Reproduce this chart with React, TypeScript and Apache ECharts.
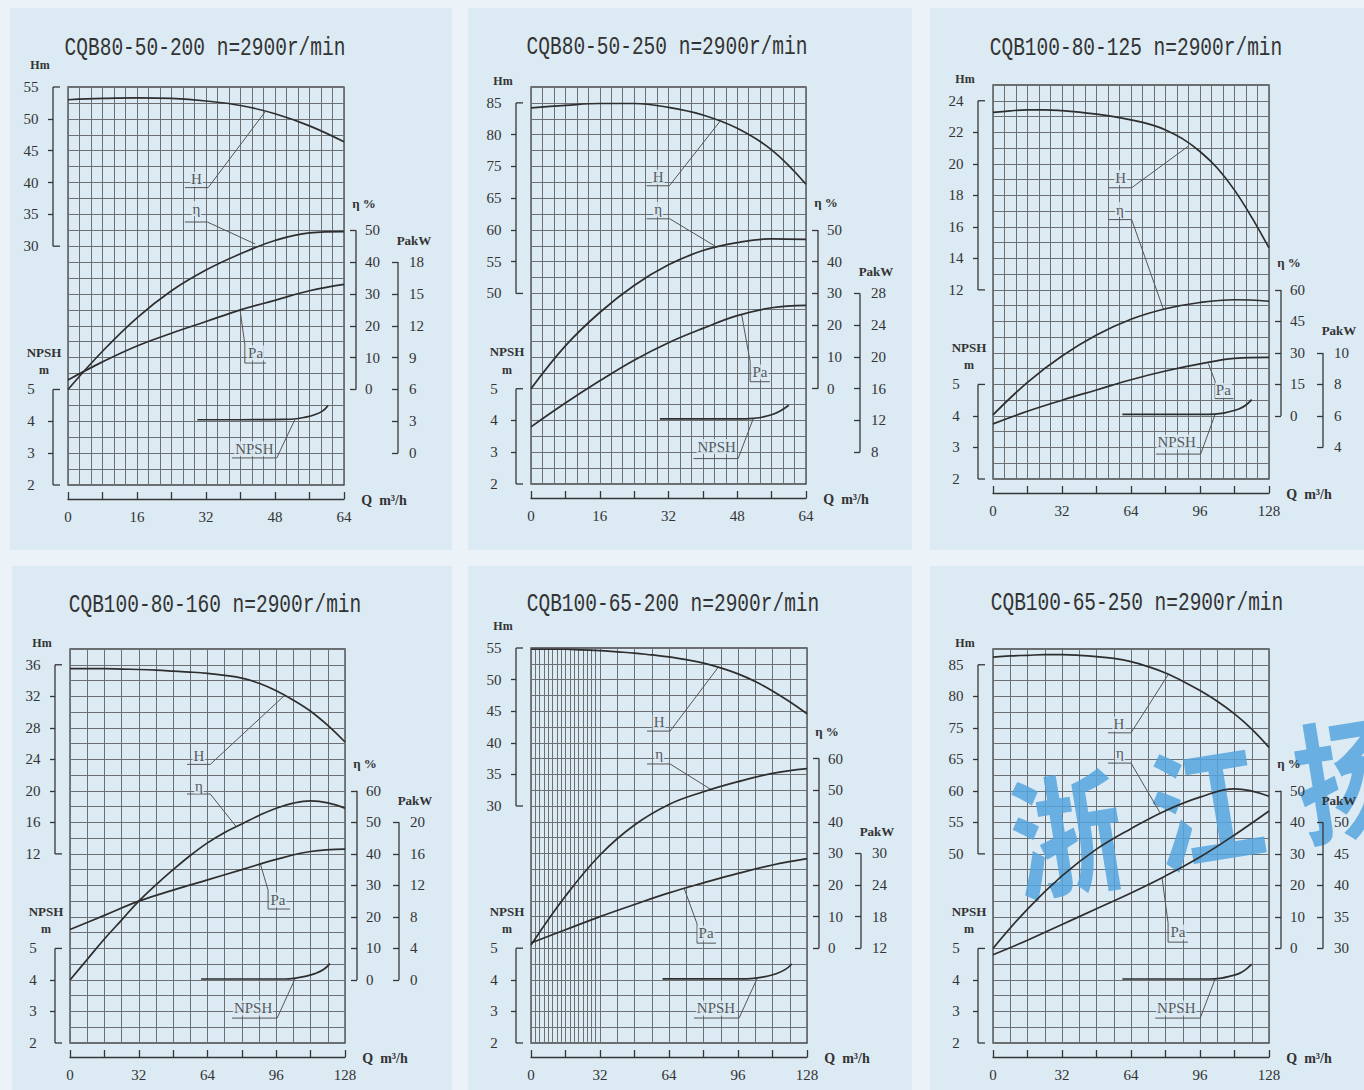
import React, { useEffect, useRef } from "react";
import * as echarts from "echarts";

// ---------------- DATA ----------------
const LABEL_TEXTS = ["H", "η", "Pa", "NPSH"];
const NPSH_TICKS = [2, 3, 4, 5];

// Panel 1
const p1Title = "CQB80-50-200 n=2900r/min";
const p1Q = [0, 8, 16, 24, 32, 40, 48, 56, 64];
const p1H = [53.0, 53.2, 53.3, 53.2, 52.8, 52.1, 50.8, 48.9, 46.4];
const p1Eta = [0, 12, 22.5, 31, 37.5, 42.6, 46.8, 49.2, 49.6];
const p1Pa = [6.9, 8.6, 10.1, 11.3, 12.4, 13.5, 14.4, 15.3, 15.9];
const p1NpshQ = [30, 40, 50, 53, 55, 57, 59, 60.3];
const p1Npsh = [4.05, 4.05, 4.06, 4.08, 4.13, 4.2, 4.32, 4.5];
const p1QTicks = [0, 16, 32, 48, 64];
const p1HTicks = [30, 35, 40, 45, 50, 55];
const p1EtaTicks = [0, 10, 20, 30, 40, 50];
const p1PaTicks = [0, 3, 6, 9, 12, 15, 18];

// Panel 2
const p2Title = "CQB80-50-250 n=2900r/min";
const p2Q = [0, 8, 16, 24, 32, 40, 48, 56, 64];
const p2H = [84.2, 84.6, 84.9, 84.9, 84.3, 83.1, 81.0, 77.6, 72.2];
const p2Eta = [0, 13.5, 24, 32.5, 39, 43.5, 46, 47.2, 47];
const p2Pa = [11.2, 14.2, 17, 19.6, 21.8, 23.6, 25.2, 26.2, 26.5];
const p2NpshQ = [30, 40, 50, 52, 54, 56, 58, 60];
const p2Npsh = [4.05, 4.05, 4.05, 4.07, 4.11, 4.18, 4.3, 4.48];
const p2QTicks = [0, 16, 32, 48, 64];
const p2HTicks = [55, 60, 65, 70, 75, 80, 85];
const p2HTickText = ["50", "55", "60", "65", "75", "80", "85"];
const p2EtaTicks = [0, 10, 20, 30, 40, 50];
const p2PaTicks = [8, 12, 16, 20, 24, 28];

// Panel 3
const p3Title = "CQB100-80-125 n=2900r/min";
const p3Q = [0, 8, 16, 24, 32, 40, 48, 56, 64, 72, 80, 88, 96, 104, 112, 120, 128];
const p3H = [23.26, 23.36, 23.42, 23.42, 23.37, 23.28, 23.15, 22.99, 22.79, 22.53, 22.15, 21.58, 20.78, 19.73, 18.33, 16.6, 14.66];
const p3Q16 = [0, 16, 32, 48, 64, 80, 96, 112, 128];
const p3Eta = [0.5, 16, 28.5, 38.5, 46, 51, 54, 55.3, 54.6];
const p3Pa = [5.5, 6.3, 7.0, 7.65, 8.3, 8.85, 9.3, 9.65, 9.72];
const p3NpshQ = [60, 80, 100, 106, 110, 114, 117, 120];
const p3Npsh = [4.05, 4.05, 4.05, 4.08, 4.14, 4.22, 4.33, 4.52];
const p3QTicks = [0, 32, 64, 96, 128];
const p3HTicks = [12, 14, 16, 18, 20, 22, 24];
const p3EtaTicks = [0, 15, 30, 45, 60];
const p3PaTicks = [4, 6, 8, 10];

// Panel 4
const p4Title = "CQB100-80-160 n=2900r/min";
const p4Q = [0, 8, 16, 24, 32, 40, 48, 56, 64, 72, 80, 88, 96, 104, 112, 120, 128];
const p4H = [35.5, 35.5, 35.5, 35.45, 35.4, 35.32, 35.2, 35.07, 34.9, 34.65, 34.3, 33.65, 32.7, 31.5, 30.1, 28.3, 26.2];
const p4Eta = [0, 6.5, 13, 19, 25, 30.2, 35, 39.5, 43.5, 46.8, 49.5, 52.2, 54.5, 56.1, 56.8, 56.2, 54.5];
const p4Q16 = [0, 16, 32, 48, 64, 80, 96, 112, 128];
const p4Pa = [6.4, 8.2, 10, 11.4, 12.7, 14, 15.3, 16.3, 16.6];
const p4NpshQ = [61, 80, 100, 105, 110, 114, 118, 121];
const p4Npsh = [4.03, 4.03, 4.03, 4.06, 4.12, 4.2, 4.33, 4.52];
const p4QTicks = [0, 32, 64, 96, 128];
const p4HTicks = [12, 16, 20, 24, 28, 32, 36];
const p4EtaTicks = [0, 10, 20, 30, 40, 50, 60];
const p4PaTicks = [0, 4, 8, 12, 16, 20];

// Panel 5
const p5Title = "CQB100-65-200 n=2900r/min";
const p5Q = [0, 8, 16, 24, 32, 40, 48, 56, 64, 72, 80, 88, 96, 104, 112, 120, 128];
const p5H = [54.8, 54.8, 54.8, 54.7, 54.6, 54.4, 54.2, 53.9, 53.6, 53.15, 52.6, 51.85, 50.9, 49.7, 48.2, 46.5, 44.6];
const p5Q16 = [0, 16, 32, 48, 64, 80, 96, 112, 128];
const p5Eta = [1, 16.5, 29.5, 39, 45.5, 49.5, 52.7, 55.3, 56.8];
const p5Pa = [13, 15.5, 18, 20.3, 22.5, 24.4, 26.2, 27.8, 29];
const p5NpshQ = [61, 80, 100, 105, 110, 114, 118, 121];
const p5Npsh = [4.03, 4.03, 4.03, 4.06, 4.12, 4.2, 4.33, 4.5];
const p5QTicks = [0, 32, 64, 96, 128];
const p5HTicks = [30, 35, 40, 45, 50, 55];
const p5EtaTicks = [0, 10, 20, 30, 40, 50, 60];
const p5PaTicks = [12, 18, 24, 30];

// Panel 6
const p6Title = "CQB100-65-250 n=2900r/min";
const p6Q = [0, 8, 16, 24, 32, 40, 48, 56, 64, 72, 80, 88, 96, 104, 112, 120, 128];
const p6H = [86.2, 86.4, 86.5, 86.6, 86.6, 86.5, 86.3, 86.0, 85.5, 84.7, 83.7, 82.4, 80.9, 79.2, 77.2, 74.8, 71.9];
const p6Q16 = [0, 16, 32, 48, 64, 80, 96, 112, 128];
const p6Eta = [0, 12.5, 23, 31.5, 38, 43.7, 48, 50.6, 48.3];
const p6Pa = [29, 31.3, 33.8, 36.3, 38.8, 41.5, 44.5, 48, 51.8];
const p6NpshQ = [60, 80, 100, 106, 110, 114, 117, 120];
const p6Npsh = [4.03, 4.03, 4.03, 4.06, 4.12, 4.2, 4.32, 4.5];
const p6QTicks = [0, 32, 64, 96, 128];
const p6HTicks = [55, 60, 65, 70, 75, 80, 85];
const p6HTickText = ["50", "55", "60", "65", "75", "80", "85"];
const p6EtaTicks = [0, 10, 20, 30, 40, 50];
const p6PaTicks = [30, 35, 40, 45, 50];

// Annotation anchors (Q, grid-unit) for leader lines and curve labels
const p1Leaders = [
  [[27.1, 9.34], [32.5, 9.34], [45.7, 11.72]],
  [[27.1, 8.26], [32.3, 8.26], [43.4, 7.57]],
  [[39.9, 5.5], [41.0, 4.42], [41.0, 3.83], [45.9, 3.83]],
  [[38.0, 0.85], [48.4, 0.85], [52.6, 2.05]],
];
const p1LabelAt = [[29.8, 9.6], [29.8, 8.68], [43.5, 4.15], [43.2, 1.14]];
const p2Leaders = [
  [[26.9, 9.39], [32.2, 9.39], [44.1, 11.44]],
  [[26.9, 8.35], [32.3, 8.35], [43.2, 7.46]],
  [[49.0, 5.35], [51.0, 3.85], [51.0, 3.22], [55.6, 3.22]],
  [[37.8, 0.8], [48.2, 0.8], [51.7, 2.05]],
];
const p2LabelAt = [[29.6, 9.66], [29.6, 8.65], [53.3, 3.53], [43.2, 1.18]];
const p3Leaders = [
  [[53.5, 9.24], [64.3, 9.24], [90.6, 10.56]],
  [[53.5, 8.23], [64.3, 8.23], [79.0, 5.39]],
  [[99.9, 3.66], [103, 3.1], [103, 2.55], [111.5, 2.55]],
  [[75.6, 0.79], [96.3, 0.79], [103, 2.05]],
];
const p3LabelAt = [[59.2, 9.56], [58.9, 8.55], [106.8, 2.81], [85.2, 1.17]];
const p4Leaders = [
  [[54.5, 8.84], [65.3, 8.84], [99.9, 11.03]],
  [[54.5, 7.9], [65.3, 7.9], [77.4, 6.86]],
  [[88.6, 5.68], [92.2, 4.85], [92.2, 4.25], [102.4, 4.25]],
  [[75.4, 0.79], [96.4, 0.79], [104.7, 2.03]],
];
const p4LabelAt = [[60, 9.11], [60, 8.15], [96.8, 4.54], [85.2, 1.11]];
const p5Leaders = [
  [[53.8, 9.87], [64.5, 9.87], [86.7, 11.88]],
  [[53.8, 8.83], [64.5, 8.83], [83.5, 8.02]],
  [[71.0, 4.9], [77.0, 3.77], [77.0, 3.16], [85.8, 3.16]],
  [[75.6, 0.79], [96.5, 0.79], [104.8, 2.03]],
];
const p5LabelAt = [[59.4, 10.16], [59.4, 9.15], [81.2, 3.48], [85.8, 1.11]];
const p6Leaders = [
  [[53.3, 9.84], [64.0, 9.84], [81.2, 11.68]],
  [[53.3, 8.88], [64.0, 8.88], [77.5, 7.3]],
  [[78.4, 5.24], [81.2, 3.81], [81.2, 3.2], [90.4, 3.2]],
  [[75.2, 0.79], [96.1, 0.79], [103, 2.03]],
];
const p6LabelAt = [[58.4, 10.12], [58.9, 9.2], [85.8, 3.52], [85, 1.11]];

// ---------------- STYLE / LAYOUT ----------------
const W = 1364;
const Hh = 1090;
const PAGE_BG = "#ecf3f8";
const PANEL_BG = "#dbeaf3";
const GRID_C = "#6c7073";
const AX_C = "#363636";
const CURVE_C = "#2e2e2e";
const TXT_C = "#333333";
const SERIF = '"Liberation Serif", "DejaVu Serif", serif';
const MONO = '"Liberation Mono", "DejaVu Sans Mono", monospace';

const BG_RECTS = [
  [10, 8, 442, 542],
  [468, 8, 444, 542],
  [930, 8, 434, 542],
  [12, 566, 440, 524],
  [468, 566, 444, 524],
  [930, 566, 434, 524],
];

type AxisSpec = { ref: number; refU: number; step: number; ticks: number[]; texts?: string[] };
type Panel = {
  title: string; titleAt: [number, number];
  rect: [number, number, number, number]; xMax: number; nV: number; denseTo?: number;
  qTicks: number[];
  hQ: number[]; h: number[]; etaQ: number[]; eta: number[]; paQ: number[]; pa: number[];
  npshQ: number[]; npsh: number[];
  hAx: AxisSpec; etaAx: AxisSpec; paAx: AxisSpec;
  leaders: number[][][]; labelAt: number[][];
};

const panels: Panel[] = [
  {
    title: p1Title, titleAt: [205, 48], rect: [68, 87, 276, 398], xMax: 64, nV: 24, qTicks: p1QTicks,
    hQ: p1Q, h: p1H, etaQ: p1Q, eta: p1Eta, paQ: p1Q, pa: p1Pa, npshQ: p1NpshQ, npsh: p1Npsh,
    hAx: { ref: 55, refU: 12.5, step: 5, ticks: p1HTicks },
    etaAx: { ref: 0, refU: 3, step: 10, ticks: p1EtaTicks },
    paAx: { ref: 0, refU: 1, step: 3, ticks: p1PaTicks },
    leaders: p1Leaders, labelAt: p1LabelAt,
  },
  {
    title: p2Title, titleAt: [667, 47], rect: [531, 87, 275, 397], xMax: 64, nV: 24, qTicks: p2QTicks,
    hQ: p2Q, h: p2H, etaQ: p2Q, eta: p2Eta, paQ: p2Q, pa: p2Pa, npshQ: p2NpshQ, npsh: p2Npsh,
    hAx: { ref: 85, refU: 12, step: 5, ticks: p2HTicks, texts: p2HTickText },
    etaAx: { ref: 0, refU: 3, step: 10, ticks: p2EtaTicks },
    paAx: { ref: 8, refU: 1, step: 4, ticks: p2PaTicks },
    leaders: p2Leaders, labelAt: p2LabelAt,
  },
  {
    title: p3Title, titleAt: [1136, 48], rect: [993, 85, 276, 394], xMax: 128, nV: 24, qTicks: p3QTicks,
    hQ: p3Q, h: p3H, etaQ: p3Q16, eta: p3Eta, paQ: p3Q16, pa: p3Pa, npshQ: p3NpshQ, npsh: p3Npsh,
    hAx: { ref: 24, refU: 12, step: 2, ticks: p3HTicks },
    etaAx: { ref: 0, refU: 2, step: 15, ticks: p3EtaTicks },
    paAx: { ref: 4, refU: 1, step: 2, ticks: p3PaTicks },
    leaders: p3Leaders, labelAt: p3LabelAt,
  },
  {
    title: p4Title, titleAt: [215, 605], rect: [70, 649, 275, 394], xMax: 128, nV: 16, qTicks: p4QTicks,
    hQ: p4Q, h: p4H, etaQ: p4Q, eta: p4Eta, paQ: p4Q16, pa: p4Pa, npshQ: p4NpshQ, npsh: p4Npsh,
    hAx: { ref: 36, refU: 12, step: 4, ticks: p4HTicks },
    etaAx: { ref: 0, refU: 2, step: 10, ticks: p4EtaTicks },
    paAx: { ref: 0, refU: 2, step: 4, ticks: p4PaTicks },
    leaders: p4Leaders, labelAt: p4LabelAt,
  },
  {
    title: p5Title, titleAt: [673, 604], rect: [531, 648, 276, 395], xMax: 128, nV: 16, denseTo: 32, qTicks: p5QTicks,
    hQ: p5Q, h: p5H, etaQ: p5Q16, eta: p5Eta, paQ: p5Q16, pa: p5Pa, npshQ: p5NpshQ, npsh: p5Npsh,
    hAx: { ref: 55, refU: 12.5, step: 5, ticks: p5HTicks },
    etaAx: { ref: 0, refU: 3, step: 10, ticks: p5EtaTicks },
    paAx: { ref: 12, refU: 3, step: 6, ticks: p5PaTicks },
    leaders: p5Leaders, labelAt: p5LabelAt,
  },
  {
    title: p6Title, titleAt: [1137, 603], rect: [993, 649, 276, 394], xMax: 128, nV: 16, qTicks: p6QTicks,
    hQ: p6Q, h: p6H, etaQ: p6Q16, eta: p6Eta, paQ: p6Q16, pa: p6Pa, npshQ: p6NpshQ, npsh: p6Npsh,
    hAx: { ref: 85, refU: 12, step: 5, ticks: p6HTicks, texts: p6HTickText },
    etaAx: { ref: 0, refU: 3, step: 10, ticks: p6EtaTicks },
    paAx: { ref: 30, refU: 3, step: 5, ticks: p6PaTicks },
    leaders: p6Leaders, labelAt: p6LabelAt,
  },
];

const NPSH_AX: AxisSpec = { ref: 2, refU: 0, step: 1, ticks: NPSH_TICKS };

function range(s: AxisSpec) {
  const min = s.ref - s.refU * s.step;
  return { min, max: min + 12.5 * s.step };
}
function unitOf(s: AxisSpec, v: number) {
  return s.refU + (v - s.ref) / s.step;
}
function fmt(s: AxisSpec) {
  return (v: number) => {
    if (!s.texts) return String(v);
    const k = s.ticks.findIndex((t) => Math.abs(t - v) < 1e-6);
    return k >= 0 ? s.texts[k] : String(v);
  };
}

const labelStyle = { fontFamily: SERIF, fontSize: 15, color: TXT_C };

function buildOption() {
  const grid: any[] = [];
  const xAxis: any[] = [];
  const yAxis: any[] = [];
  const series: any[] = [];
  const graphic: any[] = [];

  // watermark first: under every later graphic text
  const wm = (ch: string, x: number, y: number) => ({
    type: "text", x, y, rotation: 0.16, scaleX: 0.92, scaleY: 1.08, silent: true, z: 1,
    style: { text: ch, fill: "rgba(86,164,222,0.85)", fontFamily: '"Noto Sans CJK SC", sans-serif', fontWeight: "bold", fontSize: 122, align: "center", verticalAlign: "middle" },
  });
  graphic.push(wm("浙", 1066, 828), wm("江", 1205, 800), wm("扬", 1350, 772));

  const extraGrids: any[] = [];

  panels.forEach((p, i) => {
    const [L, T, GW, GH] = p.rect;
    const R = L + GW;
    const B = T + GH;
    const py = (u: number) => T + ((12.5 - u) * GH) / 12.5;

    grid.push({ left: L, top: T, width: GW, height: GH, show: true, borderColor: "#444", borderWidth: 1.3, backgroundColor: "transparent", z: 0 });

    const xg = xAxis.length;
    xAxis.push({
      gridIndex: i, type: "value", min: 0, max: p.xMax, interval: p.xMax / p.nV, z: 0,
      axisLine: { show: false, onZero: false }, axisTick: { show: false }, axisLabel: { show: false },
      splitLine: { show: true, lineStyle: { color: GRID_C, width: 1 } },
    });
    xAxis.push({
      gridIndex: i, type: "value", min: 0, max: p.xMax, interval: p.xMax / 8, position: "bottom", offset: 14, z: 3,
      axisLine: { show: true, onZero: false, lineStyle: { color: AX_C, width: 1.3 } },
      axisTick: { show: true, inside: true, length: 7, lineStyle: { color: AX_C, width: 1.3 } },
      axisLabel: { ...labelStyle, margin: 10, customValues: p.qTicks },
      splitLine: { show: false },
    });

    const yu = yAxis.length;
    yAxis.push({
      gridIndex: i, type: "value", min: 0, max: 12.5, interval: 0.5, z: 0,
      axisLine: { show: false, onZero: false }, axisTick: { show: false }, axisLabel: { show: false },
      splitLine: { show: true, lineStyle: { color: GRID_C, width: 1 } },
    });

    const leftAxis = (s: AxisSpec) => {
      const r = range(s);
      return {
        gridIndex: i, type: "value", min: r.min, max: r.max, position: "left", offset: 15, z: 3,
        axisLine: { show: false, onZero: false },
        axisTick: { show: true, length: 5, customValues: s.ticks.slice(1, -1), lineStyle: { color: AX_C, width: 1.3 } },
        axisLabel: { ...labelStyle, margin: 22, align: "center", customValues: s.ticks, formatter: fmt(s) },
        splitLine: { show: false },
      };
    };
    const rightAxis = (s: AxisSpec, off: number, margin: number) => {
      const r = range(s);
      return {
        gridIndex: i, type: "value", min: r.min, max: r.max, position: "right", offset: off, z: 3,
        axisLine: { show: false, onZero: false },
        axisTick: { show: true, inside: true, length: 6, customValues: s.ticks, lineStyle: { color: AX_C, width: 1.3 } },
        axisLabel: { ...labelStyle, margin, customValues: s.ticks, formatter: fmt(s) },
        splitLine: { show: false },
      };
    };
    const yH = yAxis.length; yAxis.push(leftAxis(p.hAx));
    const yN = yAxis.length; yAxis.push(leftAxis(NPSH_AX));
    const yE = yAxis.length; yAxis.push(rightAxis(p.etaAx, 12, 9));
    const yP = yAxis.length; yAxis.push(rightAxis(p.paAx, 54, 11));

    if (p.denseTo) extraGrids.push({ p, L, T, GH });

    const curve = (name: string, yi: number, xs: number[], ys: number[]) => ({
      type: "line", name, xAxisIndex: xg, yAxisIndex: yi,
      data: xs.map((x, k) => [x, ys[k]]), smooth: 0.4, showSymbol: false, symbol: "none",
      lineStyle: { color: CURVE_C, width: 1.7 }, silent: true, z: 4,
    });
    series.push(curve("H", yH, p.hQ, p.h));
    series.push(curve("η", yE, p.etaQ, p.eta));
    series.push(curve("Pa", yP, p.paQ, p.pa));
    series.push(curve("NPSH", yN, p.npshQ, p.npsh));

    p.leaders.forEach((pts, k) => {
      series.push({
        type: "line", name: "lead-" + LABEL_TEXTS[k], xAxisIndex: xg, yAxisIndex: yu,
        data: pts, smooth: false, showSymbol: false, symbol: "none",
        lineStyle: { color: "#555", width: 1 }, silent: true, z: 3,
      });
    });
    series.push({
      type: "scatter", name: "labels", xAxisIndex: xg, yAxisIndex: yu,
      symbol: "rect", symbolSize: 1, itemStyle: { color: "rgba(0,0,0,0)" }, silent: true, z: 6,
      data: p.labelAt.map((c, k) => ({ value: c, name: LABEL_TEXTS[k] })),
      label: { show: true, position: "inside", formatter: "{b}", fontFamily: SERIF, fontSize: 15, color: TXT_C, backgroundColor: PANEL_BG, padding: [0, 1] },
    });

    // axis brackets (decoration)
    const ln = (x1: number, y1: number, x2: number, y2: number) => ({
      type: "line", shape: { x1, y1, x2, y2 }, style: { stroke: AX_C, lineWidth: 1.3 }, silent: true, z: 10,
    });
    const xl = L - 15;
    const hT = py(unitOf(p.hAx, p.hAx.ticks[p.hAx.ticks.length - 1]));
    const hB = py(unitOf(p.hAx, p.hAx.ticks[0]));
    graphic.push(ln(xl, hT, xl, hB), ln(xl, hT, xl + 7, hT), ln(xl, hB, xl + 7, hB));
    const nT = py(3), nB = py(0);
    graphic.push(ln(xl, nT, xl, nB), ln(xl, nT, xl + 7, nT), ln(xl, nB, xl + 7, nB));
    const xe = R + 12;
    const eT = py(unitOf(p.etaAx, p.etaAx.ticks[p.etaAx.ticks.length - 1]));
    const eB = py(unitOf(p.etaAx, p.etaAx.ticks[0]));
    graphic.push(ln(xe, eT, xe, eB));
    const xp = R + 54;
    const pT = py(unitOf(p.paAx, p.paAx.ticks[p.paAx.ticks.length - 1]));
    const pB = py(unitOf(p.paAx, p.paAx.ticks[0]));
    graphic.push(ln(xp, pT, xp, pB));

    const txt = (text: string, x: number, y: number, size: number, bold: boolean, font = SERIF) => ({
      type: "text", x, y, silent: true, z: 10,
      style: { text, fill: TXT_C, fontFamily: font, fontSize: size, fontWeight: bold ? "bold" : "normal", align: "center", verticalAlign: "middle" },
    });
    graphic.push({ ...txt(p.title, p.titleAt[0], p.titleAt[1], 19.5, false, MONO), scaleY: 1.3 });
    graphic.push(txt("Hm", xl - 13, hT - 22, 12, true));
    graphic.push(txt("NPSH", xl - 9, nT - 37, 13, true));
    graphic.push(txt("m", xl - 9, nT - 19, 12, true));
    graphic.push(txt("η %", xe + 8, eT - 27, 13, true));
    graphic.push(txt("PakW", xp + 16, pT - 22, 13, true));
    graphic.push(txt("Q  m³/h", R + 40, B + 15, 14, true));
  });

  // dense vertical ruling on the left part of panel 5
  extraGrids.forEach(({ p, L, T, GH }) => {
    const gi = grid.length;
    const wDense = (p.rect[2] * p.denseTo) / p.xMax;
    grid.push({ left: L, top: T, width: wDense, height: GH, show: false });
    xAxis.push({
      gridIndex: gi, type: "value", min: 0, max: p.denseTo, interval: 2, z: 0,
      axisLine: { show: false, onZero: false }, axisTick: { show: false }, axisLabel: { show: false },
      splitLine: { show: true, lineStyle: { color: GRID_C, width: 1 } },
    });
    yAxis.push({
      gridIndex: gi, type: "value", min: 0, max: 12.5, z: 0,
      axisLine: { show: false, onZero: false }, axisTick: { show: false }, axisLabel: { show: false },
      splitLine: { show: false },
    });
  });

  return { animation: false, backgroundColor: "transparent", grid, xAxis, yAxis, series, graphic };
}

export default function App() {
  const ref = useRef<HTMLDivElement>(null);
  useEffect(() => {
    if (!ref.current) return;
    const chart = echarts.init(ref.current, null, { renderer: "svg", width: W, height: Hh });
    chart.setOption(buildOption() as any);
    return () => chart.dispose();
  }, []);
  return (
    <div style={{ position: "fixed", left: 0, top: 0, width: W, height: Hh, background: PAGE_BG, overflow: "hidden" }}>
      {BG_RECTS.map((r, k) => (
        <div key={k} style={{ position: "absolute", left: r[0], top: r[1], width: r[2], height: r[3], background: PANEL_BG }} />
      ))}
      <div ref={ref} style={{ position: "absolute", left: 0, top: 0, width: W, height: Hh }} />
    </div>
  );
}
